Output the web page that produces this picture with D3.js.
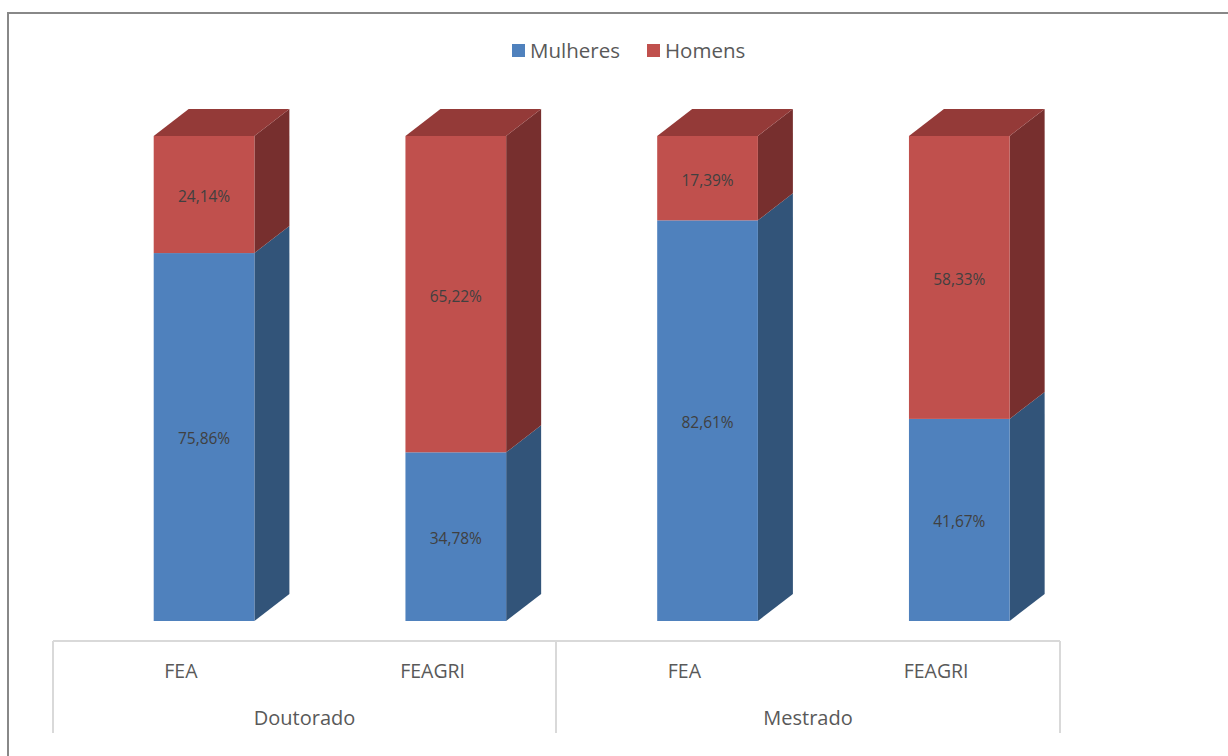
<!DOCTYPE html>
<html><head><meta charset="utf-8">
<script src="https://cdn.jsdelivr.net/npm/d3@7"></script>
<style>body{margin:0;background:#fff}svg{display:block}</style>
</head><body>
<svg id="c" width="1228" height="756"></svg>
<script>
const categories = ["FEA","FEAGRI","FEA","FEAGRI"];
const groups = ["Doutorado","Mestrado"];
const groupOf = [0,0,1,1];
const seriesNames = ["Mulheres","Homens"];
const mulheres = [75.86,34.78,82.61,41.67];
const homens = [24.14,65.22,17.39,58.33];
const labels = [["75,86%","34,78%","82,61%","41,67%"],["24,14%","65,22%","17,39%","58,33%"]];

const font = "'Open Sans', sans-serif";
const colors = {front:["#4F81BD","#C0504D"], side:["#325479","#772F2E"], top:["#3F6899","#943A38"]};
const svg = d3.select("#c");

// outer border
svg.append("path").attr("d","M8,756 V13 H1228").attr("fill","none").attr("stroke","#888").attr("stroke-width",2);

const x = d3.scaleBand().domain(d3.range(4)).range([53,1060]).padding(0);
const step = x.step();
const bw = step*0.4;
const bx = i => x(i) + step*0.4;
const y = d3.scaleLinear().domain([0,100]).range([621,136]);
const dx = 35, dy = 27;

const stack = d3.stack().keys([0,1]).value((d,k)=>k===0?mulheres[d]:homens[d])(d3.range(4));

stack.forEach((layer,si)=>{
  const g = svg.append("g");
  layer.forEach((seg,i)=>{
    const x0 = bx(i), x1 = bx(i)+bw, ya = y(seg[1]), yb = y(seg[0]);
    g.append("path").attr("d",`M${x1},${yb} L${x1+dx},${yb-dy} L${x1+dx},${ya-dy} L${x1},${ya} Z`).attr("fill",colors.side[si]);
    g.append("rect").attr("x",x0).attr("y",ya).attr("width",bw).attr("height",yb-ya).attr("fill",colors.front[si]);
    if(si===1){
      g.append("path").attr("d",`M${x0},${ya} L${x0+dx},${ya-dy} L${x1+dx},${ya-dy} L${x1},${ya} Z`).attr("fill",colors.top[si]);
    }
  });
});
stack.forEach((layer,si)=>{
  layer.forEach((seg,i)=>{
    svg.append("text").attr("x",bx(i)+bw/2).attr("y",(y(seg[0])+y(seg[1]))/2+2).attr("dy","0.35em")
      .attr("text-anchor","middle").attr("font-family",font).attr("font-size",15.5).attr("fill","#404040")
      .text(labels[si][i]);
  });
});

// axis box
const ax = svg.append("g").attr("stroke","#D9D9D9").attr("stroke-width",2).attr("fill","none");
ax.append("line").attr("x1",53).attr("x2",1060).attr("y1",641).attr("y2",641);
[53,556,1060].forEach(v=>ax.append("line").attr("x1",v).attr("x2",v).attr("y1",641).attr("y2",733));

categories.forEach((c,i)=>{
  svg.append("text").attr("x",x(i)+step/2+2).attr("y",671).attr("dy","0.35em").attr("text-anchor","middle")
    .attr("font-family",font).attr("font-size",19.5).attr("fill","#595959").text(c);
});
groups.forEach((gname,gi)=>{
  const b = [53,556,1060];
  svg.append("text").attr("x",(b[gi]+b[gi+1])/2).attr("y",718).attr("dy","0.35em").attr("text-anchor","middle")
    .attr("font-family",font).attr("font-size",20).attr("fill","#595959").text(gname);
});

// legend
const leg = svg.append("g");
const legItems = [{x:512,name:seriesNames[0],c:colors.front[0]},{x:647,name:seriesNames[1],c:colors.front[1]}];
legItems.forEach(it=>{
  leg.append("rect").attr("x",it.x).attr("y",44).attr("width",13).attr("height",13).attr("fill",it.c);
  leg.append("text").attr("x",it.x+18).attr("y",51).attr("dy","0.35em").attr("font-family",font)
    .attr("font-size",20.5).attr("fill","#595959").text(it.name);
});
</script>
</body></html>
